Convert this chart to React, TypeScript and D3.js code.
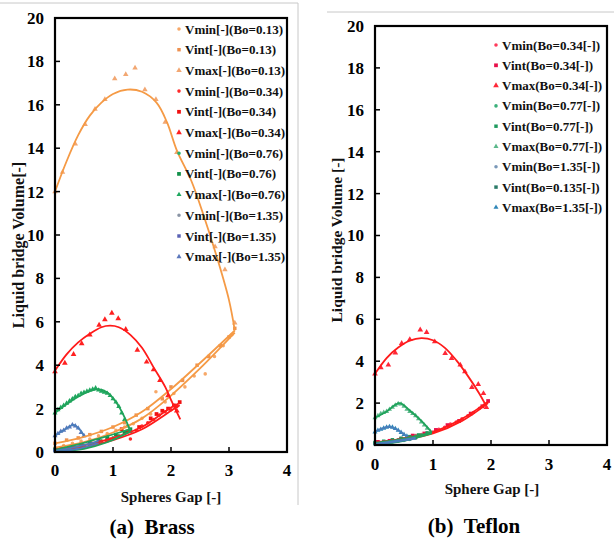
import * as d3 from "d3";
import * as React from "react";

type Pt = [number, number];

// ---------- (a) Brass ----------
const brassVmin013: Pt[] = [[0, 0.2], [0.15, 0.3], [0.3, 0.4], [0.45, 0.5], [0.6, 0.6], [0.75, 0.75], [0.9, 0.85], [1.05, 1.0], [1.2, 1.15], [1.35, 1.3], [1.5, 1.55], [1.65, 1.75], [1.74, 2.78], [1.9, 2.3], [2.05, 2.7], [2.24, 3.0], [2.4, 3.5], [2.59, 3.6], [2.75, 4.4], [2.9, 4.9], [3.05, 5.4]];
const brassVint013: Pt[] = [[0, 0.4], [0.2, 0.55], [0.4, 0.65], [0.6, 0.8], [0.8, 0.95], [1.0, 1.15], [1.2, 1.35], [1.4, 1.7], [1.6, 2.0], [1.85, 2.45], [2.0, 3.0], [2.2, 3.3], [2.45, 4.0], [2.65, 4.4], [2.85, 4.9], [3.0, 5.3], [3.1, 5.7]];
const brassVmax013: Pt[] = [[0, 12.0], [0.13, 12.9], [0.35, 14.2], [0.52, 15.1], [0.69, 15.8], [0.86, 16.25], [1.03, 17.2], [1.22, 17.4], [1.38, 17.7], [1.55, 16.7], [1.74, 16.25], [1.9, 15.2], [2.1, 13.8], [2.76, 9.46], [2.93, 8.4], [3.1, 5.95]];
const brassVmin034: Pt[] = [[0.05, 0.1], [0.2, 0.15], [0.35, 0.2], [0.5, 0.3], [0.65, 0.4], [0.8, 0.5], [0.95, 0.6], [1.1, 0.7], [1.2, 0.85], [1.3, 0.6], [1.4, 1.0], [1.5, 1.2], [1.6, 1.35], [1.7, 1.5], [1.8, 1.7], [1.9, 1.85], [2.0, 1.95], [2.1, 2.1]];
const brassVint034: Pt[] = [[0.1, 0.15], [0.3, 0.2], [0.6, 0.35], [0.9, 0.55], [1.15, 1.05], [1.25, 0.95], [1.45, 1.15], [1.65, 1.55], [1.75, 1.75], [1.85, 1.9], [1.95, 2.0], [2.05, 2.15], [2.15, 2.3]];
const brassVmax034: Pt[] = [[0, 3.7], [0.17, 4.1], [0.32, 4.5], [0.46, 5.0], [0.6, 5.4], [0.76, 5.85], [0.86, 6.1], [0.98, 6.4], [1.09, 6.15], [1.22, 5.65], [1.42, 4.7], [1.58, 4.15], [1.7, 3.8], [1.81, 3.3], [1.95, 2.6], [2.1, 1.9]];
const brassVmin076: Pt[] = [[0, 0.05], [0.1, 0.08], [0.2, 0.1], [0.3, 0.15], [0.4, 0.2], [0.5, 0.25], [0.6, 0.35], [0.7, 0.4], [0.8, 0.5], [0.9, 0.55], [1.0, 0.65], [1.1, 0.75], [1.2, 0.85], [1.3, 0.95]];
const brassVint076: Pt[] = [[0, 0.12], [0.15, 0.2], [0.3, 0.28], [0.45, 0.35], [0.6, 0.45], [0.75, 0.55], [0.9, 0.7], [1.05, 0.8], [1.2, 0.9], [1.3, 1.05]];
const brassVmax076: Pt[] = [[0, 1.8], [0.05, 1.95], [0.1, 2.05], [0.15, 2.15], [0.2, 2.25], [0.25, 2.35], [0.3, 2.45], [0.35, 2.55], [0.4, 2.6], [0.45, 2.7], [0.5, 2.75], [0.55, 2.8], [0.6, 2.85], [0.65, 2.9], [0.7, 2.95], [0.75, 2.85], [0.8, 2.8], [0.85, 2.75], [0.9, 2.7], [0.95, 2.6], [1.0, 2.45], [1.05, 2.3], [1.1, 2.1], [1.15, 1.8], [1.2, 1.5], [1.25, 1.2], [1.3, 0.95]];
const brassVmin135: Pt[] = [[0, 0.02], [0.1, 0.05], [0.2, 0.1], [0.3, 0.15], [0.4, 0.2], [0.5, 0.25], [0.6, 0.3], [0.7, 0.4]];
const brassVint135: Pt[] = [[0, 0.08], [0.15, 0.12], [0.3, 0.2], [0.45, 0.28], [0.6, 0.36], [0.75, 0.48]];
const brassVmax135: Pt[] = [[0, 0.75], [0.05, 0.85], [0.1, 0.95], [0.15, 1.0], [0.2, 1.1], [0.25, 1.15], [0.3, 1.25], [0.35, 1.2], [0.4, 1.1], [0.45, 0.9], [0.5, 0.75]];

// trend lines drawn by hand in the original figure
const brassFit013max: Pt[] = [[0, 12], [0.2, 13.4], [0.4, 14.6], [0.6, 15.5], [0.8, 16.1], [1.0, 16.5], [1.25, 16.7], [1.5, 16.6], [1.75, 16.1], [1.93, 15.2], [2.1, 13.9], [2.35, 12.5], [2.55, 11.0], [2.8, 8.9], [3.0, 7.0], [3.1, 5.6]];
const brassFit013a: Pt[] = [[0, 0.4], [0.5, 0.7], [1.0, 1.15], [1.5, 1.85], [2.0, 2.9], [2.5, 4.1], [3.1, 5.6]];
const brassFit013b: Pt[] = [[0, 0.2], [0.5, 0.45], [1.0, 0.9], [1.5, 1.55], [2.0, 2.6], [2.5, 3.85], [3.1, 5.5]];
const brassFit034max: Pt[] = [[0, 3.75], [0.2, 4.5], [0.4, 5.05], [0.6, 5.45], [0.8, 5.75], [0.95, 5.82], [1.1, 5.75], [1.3, 5.4], [1.5, 4.8], [1.7, 3.9], [1.9, 3.0], [2.0, 2.4], [2.16, 1.5]];
const brassFit034a: Pt[] = [[0, 0.12], [0.5, 0.32], [1.0, 0.65], [1.5, 1.15], [2.0, 2.05], [2.15, 2.25]];
const brassFit034b: Pt[] = [[0, 0.05], [0.5, 0.22], [1.0, 0.55], [1.5, 1.05], [2.0, 1.9], [2.15, 2.15]];
const brassFit076max: Pt[] = [[0, 1.8], [0.2, 2.2], [0.4, 2.55], [0.6, 2.8], [0.75, 2.9], [0.9, 2.75], [1.05, 2.3], [1.2, 1.6], [1.3, 0.95]];
const brassFit076a: Pt[] = [[0, 0.1], [0.4, 0.35], [0.8, 0.65], [1.3, 1.05]];
const brassFit076b: Pt[] = [[0, 0.02], [0.5, 0.15], [0.9, 0.45], [1.3, 0.95]];
const brassFit135max: Pt[] = [[0, 0.75], [0.15, 1.0], [0.32, 1.25], [0.42, 1.05], [0.5, 0.75]];
const brassFit135a: Pt[] = [[0, 0.05], [0.3, 0.2], [0.55, 0.35], [0.75, 0.5]];
const brassFit135b: Pt[] = [[0, 0.0], [0.4, 0.15], [0.75, 0.4]];

// ---------- (b) Teflon ----------
const teflonVmin034: Pt[] = [[0, 0.1], [0.1, 0.12], [0.2, 0.15], [0.3, 0.2], [0.4, 0.25], [0.5, 0.3], [0.6, 0.35], [0.7, 0.45], [0.8, 0.5], [0.9, 0.55], [1.0, 0.62], [1.1, 0.75], [1.2, 0.85], [1.3, 1.0], [1.4, 1.1], [1.5, 1.25], [1.6, 1.4], [1.7, 1.55], [1.8, 1.75], [1.9, 1.95]];
const teflonVint034: Pt[] = [[0.05, 0.15], [0.25, 0.2], [0.45, 0.3], [0.65, 0.45], [0.85, 0.55], [1.05, 0.72], [1.25, 0.95], [1.45, 1.15], [1.65, 1.5], [1.85, 1.85], [1.95, 2.1]];
const teflonVmax034: Pt[] = [[0, 3.4], [0.1, 3.7], [0.23, 3.82], [0.35, 4.4], [0.46, 4.85], [0.6, 5.04], [0.78, 5.5], [0.89, 5.38], [1.03, 4.93], [1.21, 4.38], [1.32, 4.14], [1.47, 3.82], [1.55, 3.5], [1.67, 2.75], [1.78, 2.9], [1.87, 2.46], [1.92, 1.8]];
const teflonVmin077: Pt[] = [[0, 0.05], [0.1, 0.1], [0.2, 0.15], [0.3, 0.2], [0.4, 0.25], [0.5, 0.3], [0.6, 0.35], [0.7, 0.42], [0.8, 0.48], [0.9, 0.55]];
const teflonVint077: Pt[] = [[0, 0.12], [0.15, 0.18], [0.3, 0.25], [0.45, 0.32], [0.6, 0.4], [0.75, 0.48], [0.9, 0.58]];
const teflonVmax077: Pt[] = [[0, 1.3], [0.05, 1.4], [0.1, 1.5], [0.15, 1.55], [0.2, 1.6], [0.25, 1.7], [0.3, 1.8], [0.35, 1.9], [0.4, 1.97], [0.45, 1.95], [0.5, 1.85], [0.55, 1.7], [0.6, 1.6], [0.65, 1.5], [0.7, 1.4], [0.75, 1.25], [0.8, 1.1], [0.85, 0.95], [0.9, 0.8], [0.95, 0.65]];
const teflonVmin135: Pt[] = [[0, 0.02], [0.1, 0.06], [0.2, 0.1], [0.3, 0.14], [0.4, 0.18], [0.5, 0.22], [0.6, 0.27], [0.7, 0.32]];
const teflonVint0135: Pt[] = [[0, 0.08], [0.15, 0.12], [0.3, 0.18], [0.45, 0.24], [0.6, 0.3], [0.7, 0.36]];
const teflonVmax135: Pt[] = [[0, 0.62], [0.05, 0.7], [0.1, 0.75], [0.15, 0.8], [0.2, 0.85], [0.25, 0.88], [0.3, 0.85], [0.35, 0.78], [0.4, 0.7], [0.45, 0.6], [0.5, 0.5], [0.55, 0.42]];

const teflonFit034max: Pt[] = [[0, 3.4], [0.2, 4.15], [0.4, 4.65], [0.6, 4.98], [0.8, 5.1], [1.0, 5.0], [1.2, 4.65], [1.4, 4.05], [1.6, 3.3], [1.8, 2.45], [1.9, 1.95]];
const teflonFit034a: Pt[] = [[0, 0.12], [0.5, 0.32], [1.0, 0.62], [1.5, 1.25], [1.95, 2.07]];
const teflonFit034b: Pt[] = [[0, 0.05], [0.5, 0.25], [1.0, 0.55], [1.5, 1.15], [1.95, 2.0]];
const teflonFit077max: Pt[] = [[0, 1.3], [0.2, 1.6], [0.42, 2.0], [0.6, 1.65], [0.8, 1.15], [0.98, 0.6]];
const teflonFit077a: Pt[] = [[0, 0.1], [0.5, 0.3], [0.98, 0.6]];
const teflonFit077b: Pt[] = [[0, 0.02], [0.5, 0.2], [0.98, 0.55]];
const teflonFit135max: Pt[] = [[0, 0.64], [0.12, 0.78], [0.26, 0.87], [0.4, 0.7], [0.55, 0.4]];
const teflonFit135a: Pt[] = [[0, 0.05], [0.35, 0.2], [0.7, 0.35]];
const teflonFit135b: Pt[] = [[0, 0.0], [0.7, 0.3]];

const xTicks = [0, 1, 2, 3, 4];
const yTicks = [0, 2, 4, 6, 8, 10, 12, 14, 16, 18, 20];

const ORANGE = "#F59A45";
const RED = "#FF1A1A";
const GREEN = "#1FA35A";
const BLUE = "#4A7EBB";

type Series = { label: string; color: string; shape: d3.SymbolType; size: number; points: Pt[] };
type Fit = { color: string; points: Pt[] };

const brassSeries: Series[] = [
  { label: "Vmin[-](Bo=0.13)", color: "#F7A868", shape: d3.symbolCircle, size: 10, points: brassVmin013 },
  { label: "Vint[-](Bo=0.13)", color: "#EE9150", shape: d3.symbolSquare, size: 12, points: brassVint013 },
  { label: "Vmax[-](Bo=0.13)", color: "#F2A772", shape: d3.symbolTriangle, size: 13, points: brassVmax013 },
  { label: "Vmin[-](Bo=0.34)", color: "#FF2A2A", shape: d3.symbolCircle, size: 10, points: brassVmin034 },
  { label: "Vint[-](Bo=0.34)", color: "#F01010", shape: d3.symbolSquare, size: 14, points: brassVint034 },
  { label: "Vmax[-](Bo=0.34)", color: "#FF2020", shape: d3.symbolTriangle, size: 14, points: brassVmax034 },
  { label: "Vmin[-](Bo=0.76)", color: "#22B070", shape: d3.symbolCircle, size: 10, points: brassVmin076 },
  { label: "Vint[-](Bo=0.76)", color: "#12904A", shape: d3.symbolSquare, size: 14, points: brassVint076 },
  { label: "Vmax[-](Bo=0.76)", color: "#20A860", shape: d3.symbolTriangle, size: 11, points: brassVmax076 },
  { label: "Vmin[-](Bo=1.35)", color: "#8A94A4", shape: d3.symbolCircle, size: 10, points: brassVmin135 },
  { label: "Vint[-](Bo=1.35)", color: "#5A62B4", shape: d3.symbolSquare, size: 12, points: brassVint135 },
  { label: "Vmax[-](Bo=1.35)", color: "#5C78BC", shape: d3.symbolTriangle, size: 11, points: brassVmax135 },
];

const brassFits: Fit[] = [
  { color: ORANGE, points: brassFit013max },
  { color: ORANGE, points: brassFit013a },
  { color: ORANGE, points: brassFit013b },
  { color: RED, points: brassFit034max },
  { color: RED, points: brassFit034a },
  { color: RED, points: brassFit034b },
  { color: GREEN, points: brassFit076max },
  { color: GREEN, points: brassFit076a },
  { color: GREEN, points: brassFit076b },
  { color: BLUE, points: brassFit135max },
  { color: BLUE, points: brassFit135a },
  { color: BLUE, points: brassFit135b },
];

const teflonSeries: Series[] = [
  { label: "Vmin(Bo=0.34[-])", color: "#FF3A5A", shape: d3.symbolCircle, size: 10, points: teflonVmin034 },
  { label: "Vint(Bo=0.34[-])", color: "#E8104A", shape: d3.symbolSquare, size: 14, points: teflonVint034 },
  { label: "Vmax(Bo=0.34[-])", color: "#FF2838", shape: d3.symbolTriangle, size: 14, points: teflonVmax034 },
  { label: "Vmin(Bo=0.77[-])", color: "#3AB07A", shape: d3.symbolCircle, size: 10, points: teflonVmin077 },
  { label: "Vint(Bo=0.77[-])", color: "#1E9A5E", shape: d3.symbolSquare, size: 12, points: teflonVint077 },
  { label: "Vmax(Bo=0.77[-])", color: "#5AB88A", shape: d3.symbolTriangle, size: 11, points: teflonVmax077 },
  { label: "Vmin(Bo=1.35[-])", color: "#7A98B8", shape: d3.symbolCircle, size: 10, points: teflonVmin135 },
  { label: "Vint(Bo=0.135[-])", color: "#2A7A68", shape: d3.symbolSquare, size: 12, points: teflonVint0135 },
  { label: "Vmax(Bo=1.35[-])", color: "#2F86B8", shape: d3.symbolTriangle, size: 11, points: teflonVmax135 },
];

const teflonFits: Fit[] = [
  { color: RED, points: teflonFit034max },
  { color: RED, points: teflonFit034a },
  { color: RED, points: teflonFit034b },
  { color: GREEN, points: teflonFit077max },
  { color: GREEN, points: teflonFit077a },
  { color: GREEN, points: teflonFit077b },
  { color: BLUE, points: teflonFit135max },
  { color: BLUE, points: teflonFit135a },
  { color: BLUE, points: teflonFit135b },
];

const FONT = "'Liberation Serif', 'Times New Roman', serif";

type PanelProps = {
  x0: number; x1: number; y0: number; y1: number;
  series: Series[]; fits: Fit[];
  legendX: number; legendY: number; legendStep: number;
  yLabel: string; yLabelX: number; yLabelY: number; yLabelSize: number;
  xLabel: string; xLabelX: number; xLabelY: number;
  xTickY: number;
  caption: string; captionX: number; captionY: number;
};

function Panel(p: PanelProps) {
  const x = d3.scaleLinear().domain([0, 4]).range([p.x0, p.x1]);
  const y = d3.scaleLinear().domain([0, 20]).range([p.y0, p.y1]);
  const line = d3.line<Pt>().x(d => x(d[0])).y(d => y(d[1])).curve(d3.curveCatmullRom.alpha(0.5));

  return (
    <g fontFamily={FONT} fontWeight="bold">
      {/* data markers */}
      {p.series.map((s, i) => {
        const sym = d3.symbol().type(s.shape).size(s.size)();
        return (
          <g key={"s" + i} fill={s.color}>
            {s.points.map((d, j) => (
              <path key={j} d={sym as string} transform={`translate(${x(d[0])},${y(d[1])})`} />
            ))}
          </g>
        );
      })}
      {/* trend lines */}
      {p.fits.map((f, i) => (
        <path key={"f" + i} d={line(f.points) as string} fill="none" stroke={f.color} strokeWidth={1.8} />
      ))}
      {/* frame */}
      <rect x={p.x0} y={p.y1} width={p.x1 - p.x0} height={p.y0 - p.y1} fill="none" stroke="#000" strokeWidth={2.2} />
      {yTicks.map(t => (
        <g key={"y" + t}>
          <line x1={p.x0} x2={p.x0 + 5} y1={y(t)} y2={y(t)} stroke="#000" strokeWidth={1.5} />
          <text x={p.x0 - 11} y={y(t)} dy="0.35em" textAnchor="end" fontSize={17}>{t}</text>
        </g>
      ))}
      {xTicks.map(t => (
        <g key={"x" + t}>
          <line x1={x(t)} x2={x(t)} y1={p.y0} y2={p.y0 - 5} stroke="#000" strokeWidth={1.5} />
          <text x={x(t)} y={p.xTickY} textAnchor="middle" fontSize={17}>{t}</text>
        </g>
      ))}
      {/* legend */}
      {p.series.map((s, i) => {
        const sym = d3.symbol().type(s.shape).size(s.size)();
        const ly = p.legendY + i * p.legendStep;
        return (
          <g key={"l" + i}>
            <path d={sym as string} fill={s.color} transform={`translate(${p.legendX},${ly})`} />
            <text x={p.legendX + 6} y={ly} dy="0.35em" fontSize={13} fill="#111">{s.label}</text>
          </g>
        );
      })}
      <text transform={`translate(${p.yLabelX},${p.yLabelY}) rotate(-90)`} textAnchor="middle" dy="0.35em" fontSize={p.yLabelSize} fill="#111">{p.yLabel}</text>
      <text x={p.xLabelX} y={p.xLabelY} textAnchor="middle" fontSize={15} fill="#111">{p.xLabel}</text>
      <text x={p.captionX} y={p.captionY} textAnchor="middle" fontSize={21} fill="#000">{p.caption}</text>
    </g>
  );
}

export default function App() {
  return (
    <svg width={614} height={540} style={{ position: "absolute", left: 0, top: 0, background: "#fff" }}>
      <rect width={614} height={540} fill="#fff" />
      {/* panel borders */}
      <line x1={0} x2={298} y1={3} y2={3} stroke="#c8c8c8" strokeWidth={1} />
      <line x1={298} x2={298} y1={3} y2={505} stroke="#c8c8c8" strokeWidth={1} />
      <line x1={327} x2={614} y1={12} y2={12} stroke="#c8c8c8" strokeWidth={1} />
      <Panel
        x0={55} x1={287} y0={452} y1={18}
        series={brassSeries} fits={brassFits}
        legendX={179} legendY={29} legendStep={20.7}
        yLabel="Liquid bridge Volume[-]" yLabelX={18} yLabelY={245} yLabelSize={16}
        xLabel="Spheres Gap [-]" xLabelX={171} xLabelY={502}
        xTickY={476}
        caption={"(a)\u00a0\u00a0Brass"} captionX={152} captionY={534}
      />
      <Panel
        x0={375} x1={607} y0={445} y1={26}
        series={teflonSeries} fits={teflonFits}
        legendX={496} legendY={45} legendStep={20.3}
        yLabel="Liquid bridge Volume [-]" yLabelX={337} yLabelY={240} yLabelSize={15.5}
        xLabel="Sphere Gap [-]" xLabelX={492} xLabelY={494}
        xTickY={470}
        caption={"(b)\u00a0\u00a0Teflon"} captionX={474} captionY={533}
      />
    </svg>
  );
}
